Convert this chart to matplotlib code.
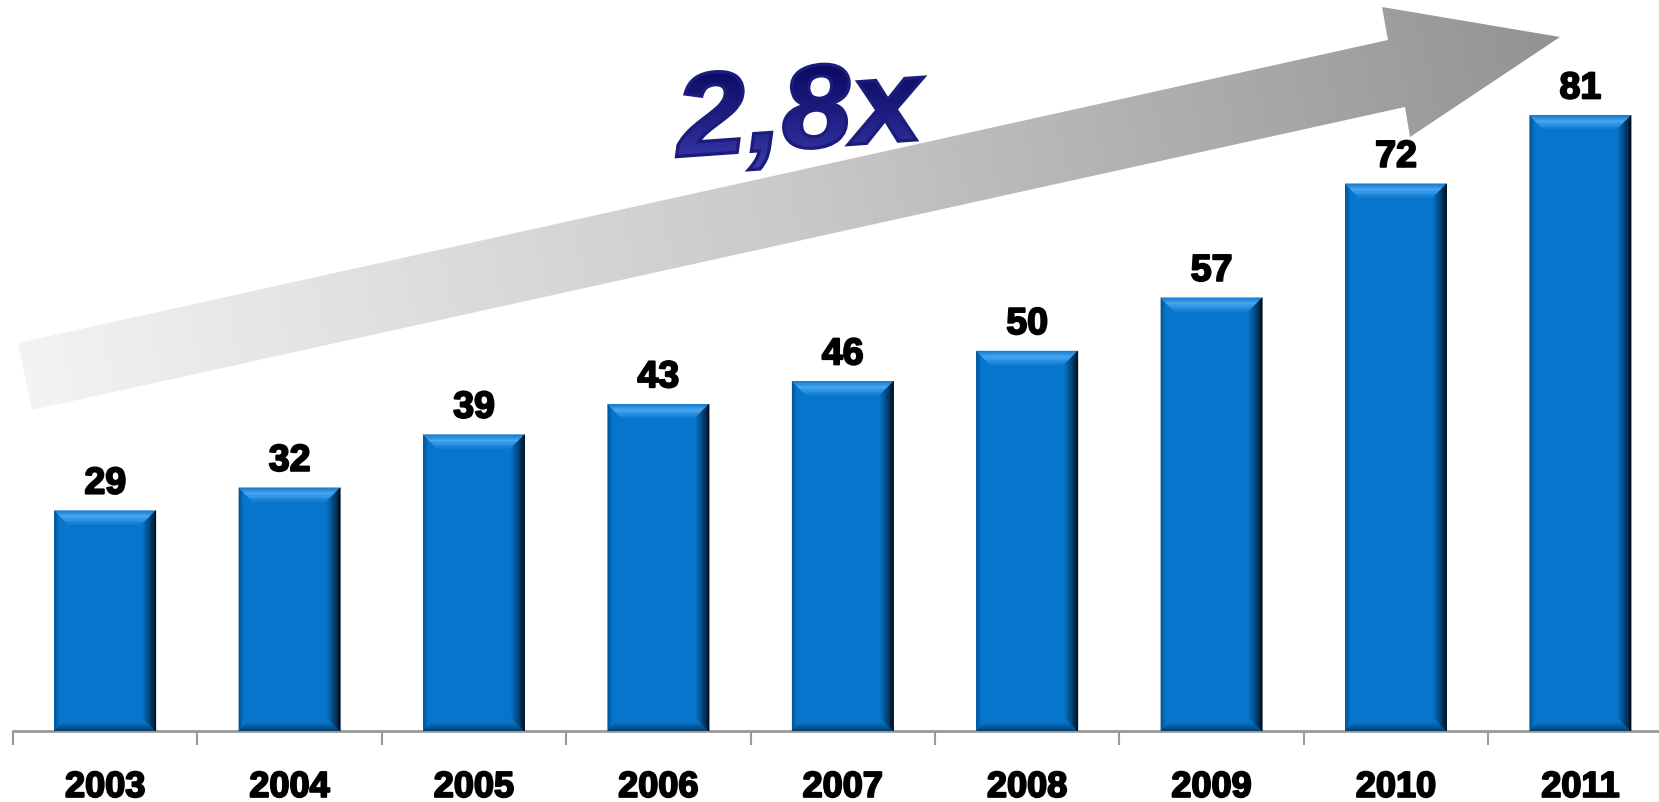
import numpy as np
import matplotlib
matplotlib.use("Agg")
import matplotlib.pyplot as plt
import matplotlib.patheffects as pe
from matplotlib.patches import Polygon, PathPatch
from matplotlib.colors import LinearSegmentedColormap, to_rgb
from matplotlib.textpath import TextPath
from matplotlib.font_manager import FontProperties
from matplotlib.transforms import Affine2D

# ==========================================
# Data
# ==========================================

years = ["2003", "2004", "2005", "2006", "2007", "2008", "2009", "2010", "2011"]
values = [29, 32, 39, 43, 46, 50, 57, 72, 81]
growth_label = "2,8x"

# ==========================================
# Layout (pixels of the 1659x803 output)
# ==========================================

W, H = 1659, 803
slot_px = 184.4        # width of one category
axis_left_px = 13
baseline_px = 732      # y of the category axis, from top
unit_px = 7.6          # pixels per value unit
ymax = 90

bar_color = "#0676cc"
plt.rcParams["font.family"] = ["Liberation Sans", "DejaVu Sans"]

fig = plt.figure(figsize=(W / 100, H / 100), dpi=100)
fig.patch.set_facecolor("white")

# overlay axes in pixel coords for the arrow and the "2,8x" title
deco = fig.add_axes([0, 0, 1, 1], zorder=0)
deco.set_xlim(0, W)
deco.set_ylim(H, 0)
deco.axis("off")

ax = fig.add_axes([axis_left_px / W, (H - baseline_px) / H,
                   len(years) * slot_px / W, ymax * unit_px / H], zorder=1)
ax.patch.set_visible(False)
ax.set_xlim(0, len(years))
ax.set_ylim(0, ymax)

# ==========================================
# Gradient arrow
# ==========================================

arrow_pts = np.array([
    [18, 344], [1388, 41], [1382, 8], [1560, 38],
    [1410, 138], [1405, 108], [32, 411],
])
arrow = Polygon(arrow_pts, closed=True, facecolor="none", edgecolor="none")
deco.add_patch(arrow)

gx, gy = np.meshgrid(np.linspace(0, W, 400), np.linspace(0, H, 200))
p0 = np.array([25, 377.0])
p1 = np.array([1560, 38.0])
d = p1 - p0
t = ((gx - p0[0]) * d[0] + (gy - p0[1]) * d[1]) / (d @ d)
arrow_cmap = LinearSegmentedColormap.from_list("arr", ["#f3f3f3", "#c9c9c9", "#939393"])
img = deco.imshow(np.clip(t, 0, 1), cmap=arrow_cmap, vmin=0, vmax=1,
                  extent=[0, W, H, 0], origin="upper", aspect="auto",
                  interpolation="bilinear")
img.set_clip_path(arrow)

# ==========================================
# "2,8x" label with vertical gradient
# ==========================================

fp = FontProperties(family="Liberation Sans", weight="bold", style="italic")
tp = TextPath((0, 0), growth_label, size=100, prop=fp)
ext = tp.get_extents()
tr = (Affine2D()
      .translate(-(ext.x0 + ext.x1) / 2, -(ext.y0 + ext.y1) / 2)
      .scale(252 / ext.width, 100 / ext.height)
      .rotate_deg(4)
      .scale(1, -1)
      .translate(800, 117))
title_path = tr.transform_path(tp)
title_patch = PathPatch(title_path, facecolor="none", edgecolor="#1c1c7c",
                        linewidth=2.4, zorder=3)
deco.add_patch(title_patch)
title_cmap = LinearSegmentedColormap.from_list("ttl", ["#06065a", "#1e1e82", "#3c3cae"])
grad = np.linspace(0, 1, 100).reshape(-1, 1)
timg = deco.imshow(grad, cmap=title_cmap, extent=[650, 950, 175, 55],
                   origin="upper", aspect="auto", zorder=2)
timg.set_clip_path(title_patch)
deco.set_xlim(0, W)
deco.set_ylim(H, 0)

# ==========================================
# Bars with bevel edges
# ==========================================

def mix(c1, c2, f):
    a, b = np.array(to_rgb(c1)), np.array(to_rgb(c2))
    return tuple(a + (b - a) * f)


def bevel(x0, x1, top, side, depth_px, colors):
    n = len(colors)
    for k, c in enumerate(colors):
        a, b = depth_px * k / n, depth_px * (k + 1) / n
        ax_, bx_ = a / slot_px, b / slot_px
        ay_, by_ = a / unit_px, b / unit_px
        if side == "top":
            pts = [(x0 + ax_, top - ay_), (x1 - ax_, top - ay_),
                   (x1 - bx_, top - by_), (x0 + bx_, top - by_)]
        elif side == "right":
            pts = [(x1 - ax_, top - ay_), (x1 - ax_, ay_),
                   (x1 - bx_, by_), (x1 - bx_, top - by_)]
        elif side == "bottom":
            pts = [(x0 + ax_, ay_), (x1 - ax_, ay_),
                   (x1 - bx_, by_), (x0 + bx_, by_)]
        else:
            pts = [(x0 + ax_, top - ay_), (x0 + ax_, ay_),
                   (x0 + bx_, by_), (x0 + bx_, top - by_)]
        ax.add_patch(Polygon(pts, closed=True, facecolor=c, edgecolor=c,
                             linewidth=0.3, zorder=3))


x = np.arange(len(years)) + 0.5
bar_w = 0.55
ax.bar(x, values, width=bar_w, color=bar_color, zorder=2)

top_cols = [mix("#1c7ed0", "#4aa9f3", f) for f in np.linspace(0, 1, 5)] + \
           [mix("#4aa9f3", bar_color, f) for f in np.linspace(0.15, 1, 7)]
right_cols = [mix("#000814", bar_color, f ** 0.8) for f in np.linspace(0, 1, 12)]
bottom_cols = [mix("#03406f", bar_color, f) for f in np.linspace(0, 1, 8)]
left_cols = [mix("#045596", bar_color, f) for f in np.linspace(0, 1, 5)]

for xc, v in zip(x, values):
    x0, x1 = xc - bar_w / 2, xc + bar_w / 2
    bevel(x0, x1, v, "left", 6, left_cols)
    bevel(x0, x1, v, "bottom", 10, bottom_cols)
    bevel(x0, x1, v, "top", 16, top_cols)
    bevel(x0, x1, v, "right", 15, right_cols)
    ax.text(xc, v + 17 / unit_px, str(v), ha="center", va="baseline",
            fontsize=27, fontweight="bold", color="black", zorder=4,
            path_effects=[pe.withStroke(linewidth=1.4, foreground="black")])

# ==========================================
# Category axis
# ==========================================

for s in ["top", "right", "left"]:
    ax.spines[s].set_visible(False)
ax.spines["bottom"].set_color("#999999")
ax.spines["bottom"].set_linewidth(2)
ax.set_yticks([])
ax.set_xticks(x)
ax.set_xticklabels(years, fontsize=26, fontweight="bold")
ax.set_xticks(np.arange(len(years) + 1), minor=True)
ax.tick_params(axis="x", which="major", length=0, pad=28)
ax.tick_params(axis="x", which="minor", length=10, width=1.5, color="#999999")
for lbl in ax.get_xticklabels():
    lbl.set_path_effects([pe.withStroke(linewidth=1.4, foreground="black")])

fig.savefig("out.png", dpi=100, facecolor="white")
